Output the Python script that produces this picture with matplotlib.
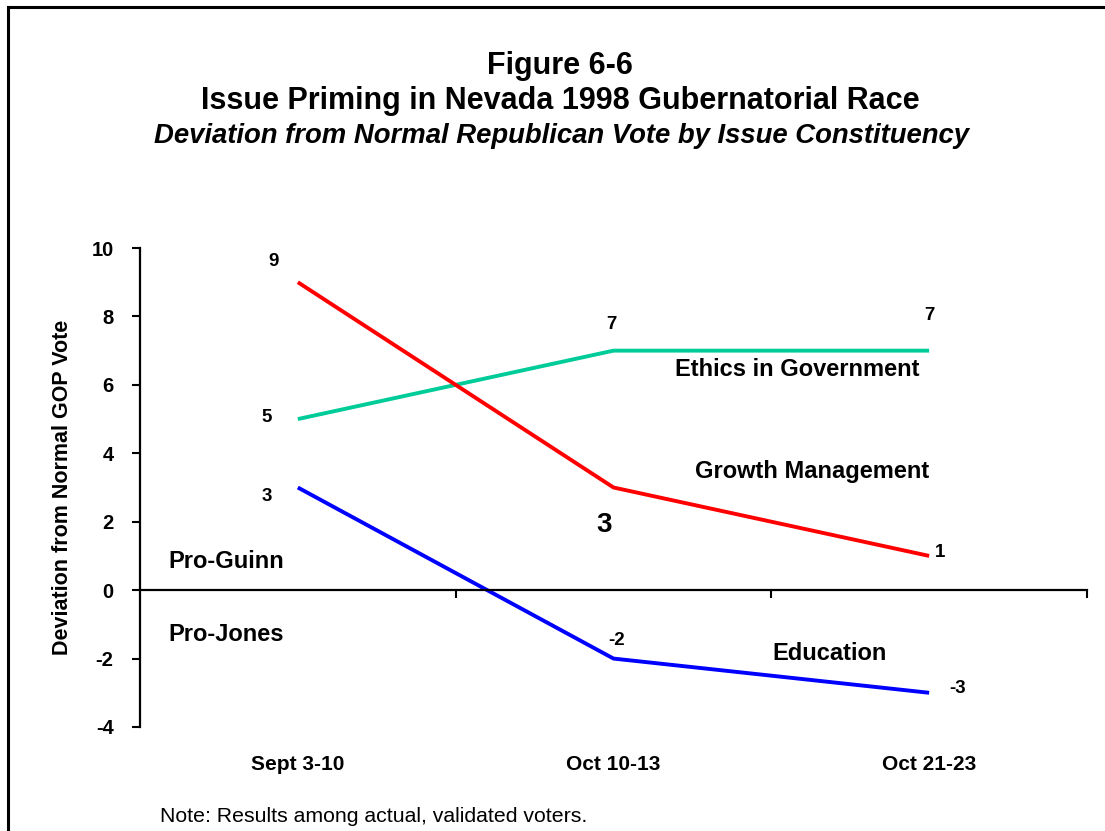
import matplotlib
matplotlib.use('Agg')
import matplotlib.pyplot as plt
from matplotlib.lines import Line2D

plt.rcParams['font.family'] = ['Liberation Sans', 'DejaVu Sans']
plt.rcParams['axes.unicode_minus'] = False

periods = ['Sept 3-10', 'Oct 10-13', 'Oct 21-23']
ethics = [5, 7, 7]
growth = [9, 3, 1]
education = [3, -2, -3]

W, H = 1105, 831
fig = plt.figure(figsize=(W / 100, H / 100), dpi=100)

# outer frame (left and top edges only)
fig.add_artist(Line2D([8 / W, 8 / W], [0, 1 - 7 / H], color='black', lw=2.2))
fig.add_artist(Line2D([8 / W, 1], [1 - 7 / H, 1 - 7 / H], color='black', lw=2.2))

ax = fig.add_axes([140 / W, (H - 727) / H, (1087 - 140) / W, (727 - 248) / H])
x = [i + 0.5 for i in range(len(periods))]

ax.plot(x, ethics, color='#00CC99', lw=2.8, solid_capstyle='butt')
ax.plot(x, growth, color='#FF0000', lw=2.8, solid_capstyle='butt')
ax.plot(x, education, color='#0000FF', lw=2.8, solid_capstyle='butt')

ax.set_xlim(0, 3)
ax.set_ylim(-4, 10)
ax.set_yticks(range(-4, 11, 2))
ax.tick_params(axis='y', direction='out', length=6, width=1.5, pad=13,
               labelsize=14.5)
for lab in ax.get_yticklabels():
    lab.set_fontweight('bold')

ax.spines['top'].set_visible(False)
ax.spines['right'].set_visible(False)
ax.spines['left'].set_linewidth(1.6)
ax.spines['bottom'].set_position(('data', 0))
ax.spines['bottom'].set_linewidth(1.6)
ax.set_xticks([1, 2, 3])
ax.set_xticklabels([])
ax.tick_params(axis='x', direction='out', length=6, width=1.5)

ax.set_ylabel('Deviation from Normal GOP Vote', fontsize=15.5,
              fontweight='bold', labelpad=13)

# category labels below the plot
for xi, name in zip(x, periods):
    ax.text(xi, -5.1, name, ha='center', va='center', fontsize=15,
            fontweight='bold')

# value labels
lbl = dict(ha='center', va='center', fontsize=13.5, fontweight='bold',
           textcoords='offset pixels')
ax.annotate(str(growth[0]), (x[0], growth[0]), xytext=(-24, 21), **lbl)
ax.annotate(str(ethics[0]), (x[0], ethics[0]), xytext=(-31, 2), **lbl)
ax.annotate(str(education[0]), (x[0], education[0]), xytext=(-31, -9), **lbl)
ax.annotate(str(ethics[1]), (x[1], ethics[1]), xytext=(-2, 26), **lbl)
ax.annotate(str(ethics[2]), (x[2], ethics[2]), xytext=(0, 35), **lbl)
ax.annotate(str(growth[2]), (x[2], growth[2]), xytext=(11, 3), **lbl)
ax.annotate(str(education[1]), (x[1], education[1]), xytext=(3, 18), **lbl)
ax.annotate(str(education[2]), (x[2], education[2]), xytext=(28, 4), **lbl)
ax.annotate(str(growth[1]), (x[1], growth[1]), xytext=(-9, -37),
            ha='center', va='center', fontsize=20, fontweight='bold',
            textcoords='offset pixels')

# series names and side notes
txt = dict(ha='center', va='center', fontsize=17, fontweight='bold')
ax.text(2.081, 6.46, 'Ethics in Government', **txt)
ax.text(2.129, 3.48, 'Growth Management', **txt)
ax.text(2.186, -1.84, 'Education', **txt)
ax.text(0.272, 0.85, 'Pro-Guinn', **txt)
ax.text(0.272, -1.31, 'Pro-Jones', **txt)

fig.text(560 / W, 1 - 66 / H, 'Figure 6-6', ha='center', va='center',
         fontsize=22, fontweight='bold')
fig.text(560 / W, 1 - 101 / H, 'Issue Priming in Nevada 1998 Gubernatorial Race',
         ha='center', va='center', fontsize=22, fontweight='bold')
fig.text(562 / W, 1 - 136 / H,
         'Deviation from Normal Republican Vote by Issue Constituency',
         ha='center', va='center', fontsize=19.8, fontweight='bold',
         style='italic')
fig.text(160 / W, 1 - 817 / H, 'Note: Results among actual, validated voters.',
         ha='left', va='center', fontsize=15.3)

fig.savefig('out.png', dpi=100)
